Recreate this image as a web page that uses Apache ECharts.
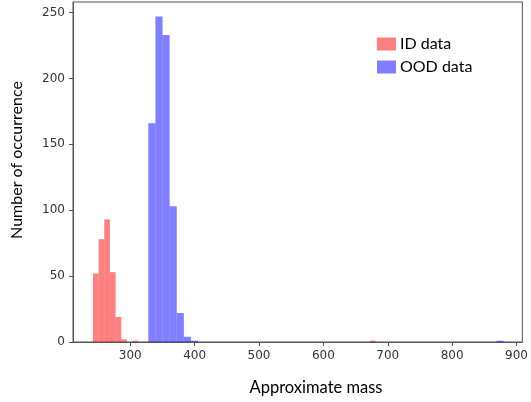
<!DOCTYPE html>
<html>
<head>
<meta charset="utf-8">
<script src="https://cdn.jsdelivr.net/npm/echarts@6/dist/echarts.min.js"></script>
<style>html,body{margin:0;padding:0;background:#fff}#c{width:531px;height:402px}</style>
</head>
<body>
<div id="c"></div>
<script>
// Histogram data (50 bins each, spanning each data set's min..max)
const idRange = [242, 681];
const idCounts = [52, 78, 93, 53, 19, 2, 0, 1, 0, 0,
                  0, 0, 0, 0, 0, 0, 0, 0, 0, 0,
                  0, 0, 0, 0, 0, 0, 0, 0, 0, 0,
                  0, 0, 0, 0, 0, 0, 0, 0, 0, 0,
                  0, 0, 0, 0, 0, 0, 0, 0, 0, 1];
const oodRange = [328, 880];
const oodCounts = [166, 247, 233, 103, 22, 4, 1, 0, 0, 0,
                   0, 0, 0, 0, 0, 0, 0, 0, 0, 0,
                   0, 0, 0, 0, 0, 0, 0, 0, 0, 0,
                   0, 0, 0, 0, 0, 0, 0, 0, 0, 0,
                   0, 0, 0, 0, 0, 0, 0, 0, 0, 1];
const xTicks = [300, 400, 500, 600, 700, 800, 900];
const seriesNames = ['ID data', 'OOD data'];

function binsOf(range, counts) {
  const w = (range[1] - range[0]) / counts.length;
  return counts.map((c, i) => [range[0] + i * w, range[0] + (i + 1) * w, c]).filter(d => d[2] > 0);
}
function renderBar(params, api) {
  const a = api.coord([api.value(0), api.value(2)]);
  const b = api.coord([api.value(1), 0]);
  return {
    type: 'rect',
    shape: { x: a[0], y: a[1], width: b[0] - a[0], height: b[1] - a[1] },
    style: api.style()
  };
}
const axisColor = '#555';
const chart = echarts.init(document.getElementById('c'), null, { renderer: 'canvas' });
chart.setOption({
  animation: false,
  backgroundColor: '#fff',
  grid: { left: 73, top: 2, right: 4, bottom: 60, show: true, borderColor: axisColor, borderWidth: 1, backgroundColor: 'transparent' },
  legend: {
    left: 377, top: 36, orient: 'vertical', itemWidth: 19, itemHeight: 13, itemGap: 7, padding: 0,
    icon: 'rect',
    textStyle: { fontFamily: 'Lato', fontSize: 16, color: '#000', padding: [0, 0, 0, -1] },
    data: seriesNames
  },
  xAxis: {
    type: 'value', min: 211, max: 909,
    splitLine: { show: false },
    axisLine: { show: true, onZero: false, lineStyle: { color: axisColor } },
    axisTick: { show: true, length: 4, customValues: xTicks, lineStyle: { color: axisColor } },
    axisLabel: { customValues: xTicks, margin: 8, fontFamily: 'DejaVu Sans', fontSize: 12, color: '#333' }
  },
  yAxis: {
    type: 'value', min: 0, max: 258, interval: 50,
    splitLine: { show: false },
    axisLine: { show: true, lineStyle: { color: axisColor } },
    axisTick: { show: true, length: 4, lineStyle: { color: axisColor } },
    axisLabel: { margin: 8, fontFamily: 'DejaVu Sans', fontSize: 12, color: '#333' }
  },
  graphic: [
    { type: 'text', x: 316, y: 388, style: { text: 'Approximate mass', fontFamily: 'Lato', fontSize: 16.5, fill: '#000', align: 'center', verticalAlign: 'middle' } },
    { type: 'text', x: 17, y: 160, rotation: Math.PI / 2, style: { text: 'Number of occurrence', fontFamily: 'Lato', fontSize: 16, fill: '#000', align: 'center', verticalAlign: 'middle' } }
  ],
  series: [
    { name: seriesNames[0], type: 'custom', renderItem: renderBar, clip: true,
      itemStyle: { color: 'rgba(255,0,0,0.5)' },
      encode: { x: [0, 1], y: 2 }, data: binsOf(idRange, idCounts) },
    { name: seriesNames[1], type: 'custom', renderItem: renderBar, clip: true,
      itemStyle: { color: 'rgba(0,0,255,0.5)' },
      encode: { x: [0, 1], y: 2 }, data: binsOf(oodRange, oodCounts) }
  ]
});
</script>
</body>
</html>
